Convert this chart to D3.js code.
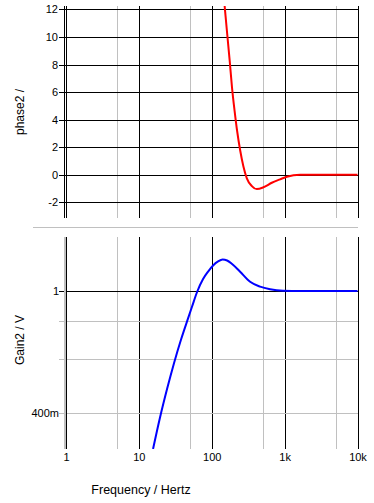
<!DOCTYPE html>
<html>
<head>
<meta charset="utf-8">
<script src="https://d3js.org/d3.v7.min.js"></script>
<style>
  body { margin: 0; background: #fff; }
  text { font-family: Arial, "Liberation Sans", sans-serif; fill: #000; }
</style>
</head>
<body>
<div id="chart"></div>
<script>
// data
const xTicks = [1, 10, 100, 1000, 10000]
const xTickLabels = ["1", "10", "100", "1k", "10k"]
const xMinor = [5, 50, 500, 5000]

const phaseFreq = [143, 150, 162, 176, 190, 206, 223, 245, 272, 303, 355, 415, 512, 667, 868, 1072, 1633, 3000, 10000]
const phaseVals = [13.5, 12.3, 10.36, 8.32, 6.29, 4.62, 3.17, 1.79, 0.59, -0.27, -0.83, -1.05, -0.92, -0.59, -0.34, -0.15, 0, 0, 0]
const phaseTicks = [-2, 0, 2, 4, 6, 8, 10, 12]

const gainFreq = [15.65, 19.5, 24.4, 30.4, 37.9, 47.3, 53.7, 62.9, 76.0, 89.1, 104.3, 122.2, 140.9, 162.4, 190.2, 245, 336, 461, 632, 954, 1633, 10000]
const gainVals = [0.3056, 0.387, 0.480, 0.583, 0.695, 0.814, 0.890, 0.9925, 1.094, 1.157, 1.211, 1.248, 1.266, 1.257, 1.224, 1.156, 1.072, 1.033, 1.013, 1.002, 1.0, 1.0]
const gainMajor = [1]
const gainMinor = [0.4, 0.6, 0.8]
const gainTickLabels = [{v: 1, t: "1"}, {v: 0.4, t: "400m"}]

const width = 374
const height = 503

const svg = d3.select("#chart")
  .append("svg")
    .attr("width", width)
    .attr("height", height)

const x = d3.scaleLog().domain([1, 10000]).range([66, 357.5])

// top panel: phase
const topP = {y0: 6, y1: 218}
const yP = d3.scaleLinear().domain([-3.15, 12.25]).range([topP.y1, topP.y0])

// bottom panel: gain
const botP = {y0: 237, y1: 449}
const yG = d3.scaleLog().domain([0.3056, 1.4995]).range([botP.y1, botP.y0])

const defs = svg.append("defs")
defs.append("clipPath").attr("id", "clipTop").append("rect")
  .attr("x", 66).attr("y", topP.y0).attr("width", 292).attr("height", topP.y1 - topP.y0)
defs.append("clipPath").attr("id", "clipBot").append("rect")
  .attr("x", 66).attr("y", botP.y0).attr("width", 292).attr("height", botP.y1 - botP.y0)

const grid = svg.append("g").attr("shape-rendering", "crispEdges")

// vertical grid in both panels
;[topP, botP].forEach(p => {
  grid.selectAll(null).data(xMinor).join("line")
    .attr("x1", d => Math.round(x(d)) + 0.5).attr("x2", d => Math.round(x(d)) + 0.5)
    .attr("y1", p.y0).attr("y2", p.y1)
    .attr("stroke", "#c0c0c0")
  grid.selectAll(null).data(xTicks.slice(1)).join("line")
    .attr("x1", d => Math.round(x(d)) + 0.5).attr("x2", d => Math.round(x(d)) + 0.5)
    .attr("y1", p.y0).attr("y2", p.y1)
    .attr("stroke", "#000")
})

// phase horizontal grid + ticks
grid.selectAll(null).data(phaseTicks).join("line")
  .attr("x1", 59).attr("x2", 358)
  .attr("y1", d => Math.round(yP(d)) + 0.5).attr("y2", d => Math.round(yP(d)) + 0.5)
  .attr("stroke", "#000")

svg.append("g").selectAll("text").data(phaseTicks).join("text")
  .attr("x", 58).attr("y", d => yP(d) + 4)
  .attr("text-anchor", "end")
  .style("font-size", "11px")
  .text(d => d)

// top y-axis double line
grid.append("line").attr("x1", 64.5).attr("x2", 64.5).attr("y1", topP.y0).attr("y2", topP.y1).attr("stroke", "#000")
grid.append("line").attr("x1", 66.5).attr("x2", 66.5).attr("y1", topP.y0).attr("y2", topP.y1).attr("stroke", "#000")

// gain horizontal grid
grid.selectAll(null).data(gainMinor).join("line")
  .attr("x1", 59).attr("x2", 358)
  .attr("y1", d => Math.round(yG(d)) + 0.5).attr("y2", d => Math.round(yG(d)) + 0.5)
  .attr("stroke", "#c0c0c0")
grid.selectAll(null).data(gainMajor).join("line")
  .attr("x1", 59).attr("x2", 358)
  .attr("y1", d => Math.round(yG(d)) + 0.5).attr("y2", d => Math.round(yG(d)) + 0.5)
  .attr("stroke", "#000")

svg.append("g").selectAll("text").data(gainTickLabels).join("text")
  .attr("x", 59).attr("y", d => yG(d.v) + 4)
  .attr("text-anchor", "end")
  .style("font-size", "11px")
  .text(d => d.t)

// bottom y-axis: gray + black
grid.append("line").attr("x1", 64.5).attr("x2", 64.5).attr("y1", botP.y0).attr("y2", botP.y1)
  .attr("stroke", "#c0c0c0").attr("stroke-width", 2)
grid.append("line").attr("x1", 66.5).attr("x2", 66.5).attr("y1", botP.y0).attr("y2", botP.y1).attr("stroke", "#000")

// separator between panels
grid.append("line").attr("x1", 33).attr("x2", 358).attr("y1", 227.5).attr("y2", 227.5).attr("stroke", "#c0c0c0")

// x tick labels
svg.append("g").selectAll("text").data(xTicks).join("text")
  .attr("x", d => x(d) + 0.5).attr("y", 461)
  .attr("text-anchor", "middle")
  .style("font-size", "11px")
  .text((d, i) => xTickLabels[i])

// curves
const phaseLine = d3.line()
  .x((d, i) => x(phaseFreq[i]))
  .y(d => yP(d))
  .curve(d3.curveMonotoneX)
svg.append("path")
  .datum(phaseVals)
  .attr("clip-path", "url(#clipTop)")
  .attr("fill", "none")
  .attr("stroke", "#ff0000")
  .attr("stroke-width", 2)
  .attr("d", phaseLine)

const gainLine = d3.line()
  .x((d, i) => x(gainFreq[i]))
  .y(d => yG(d))
  .curve(d3.curveMonotoneX)
svg.append("path")
  .datum(gainVals)
  .attr("clip-path", "url(#clipBot)")
  .attr("fill", "none")
  .attr("stroke", "#0000ff")
  .attr("stroke-width", 2)
  .attr("d", gainLine)

// axis titles
svg.append("text")
  .attr("transform", "translate(24,112) rotate(-90)")
  .attr("text-anchor", "middle")
  .style("font-size", "12px")
  .text("phase2 /")
svg.append("text")
  .attr("transform", "translate(24,340) rotate(-90)")
  .attr("text-anchor", "middle")
  .style("font-size", "12px")
  .text("Gain2 / V")
svg.append("text")
  .attr("x", 141).attr("y", 494)
  .attr("text-anchor", "middle")
  .style("font-size", "12.5px")
  .text("Frequency / Hertz")
</script>
</body>
</html>
